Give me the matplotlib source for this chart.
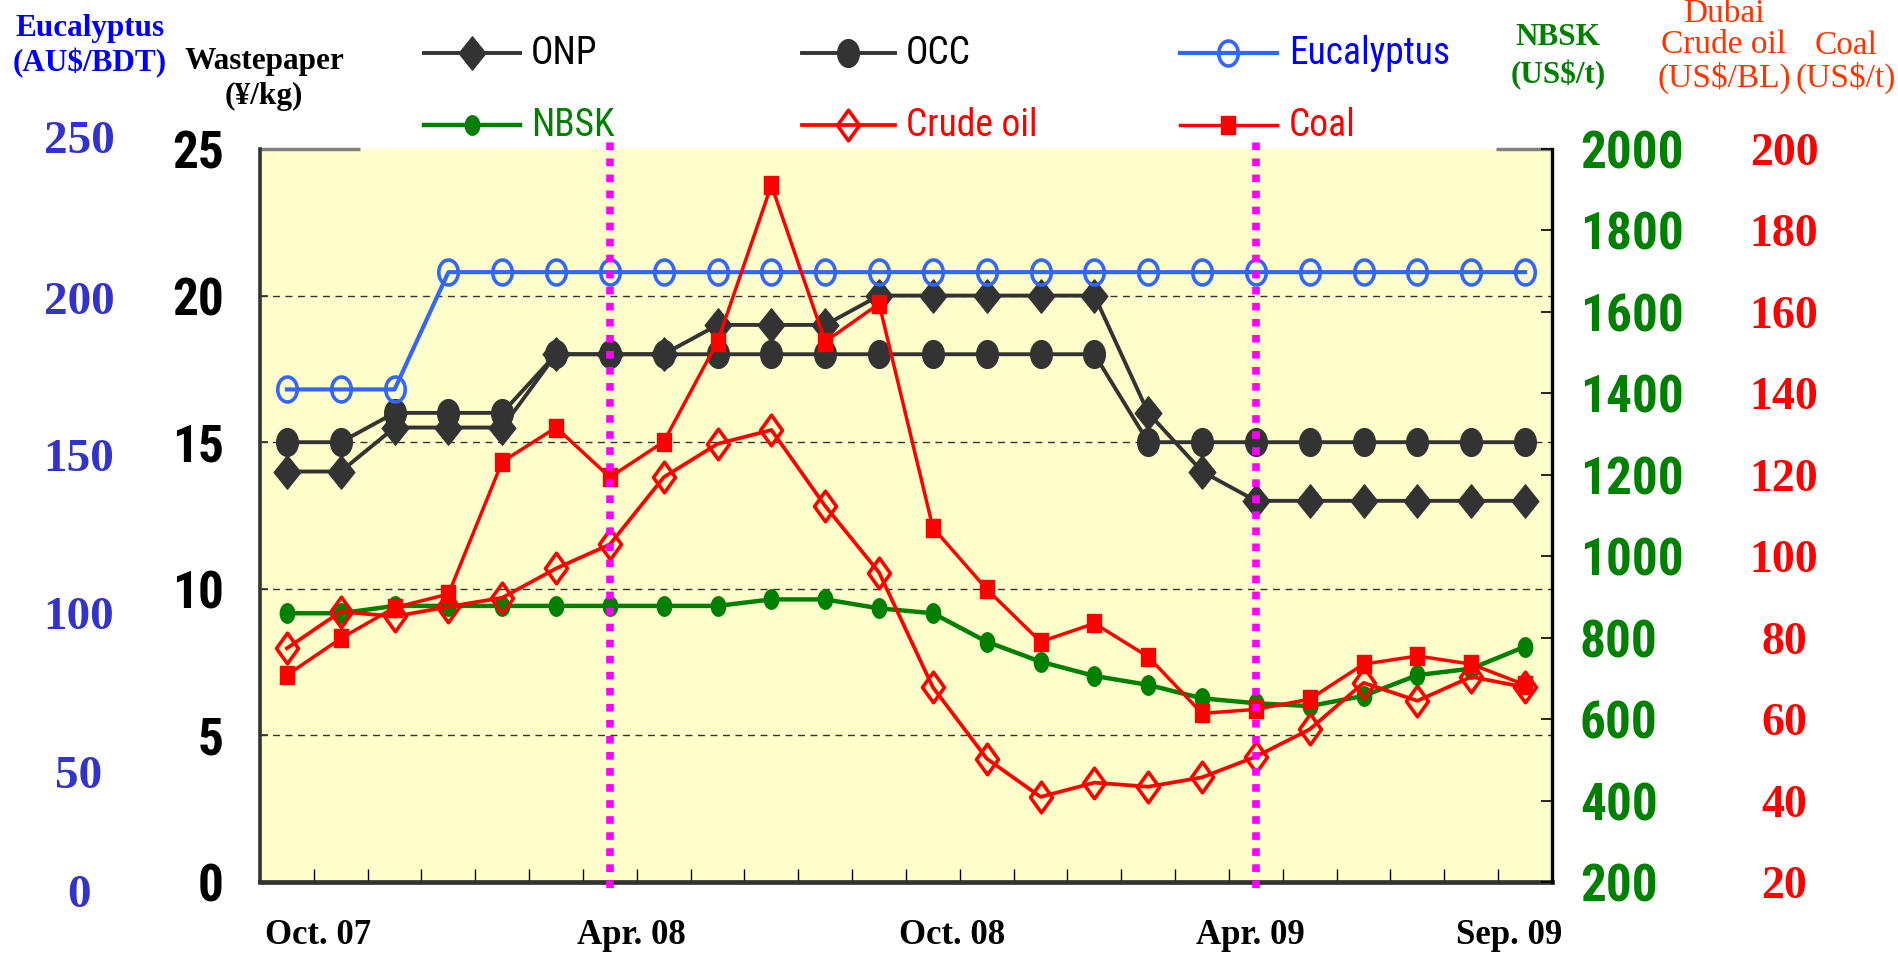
import numpy as np
import matplotlib
matplotlib.use("Agg")
import matplotlib.pyplot as plt
from matplotlib import font_manager as fm
from matplotlib.lines import Line2D
from matplotlib.path import Path
from matplotlib.transforms import blended_transform_factory

# ---------------- data ----------------
months = ["Oct. 07", "Nov. 07", "Dec. 07", "Jan. 08", "Feb. 08", "Mar. 08",
          "Apr. 08", "May 08", "Jun. 08", "Jul. 08", "Aug. 08", "Sep. 08",
          "Oct. 08", "Nov. 08", "Dec. 08", "Jan. 09", "Feb. 09", "Mar. 09",
          "Apr. 09", "May 09", "Jun. 09", "Jul. 09", "Aug. 09", "Sep. 09"]
x_labels = ["Oct. 07", "Apr. 08", "Oct. 08", "Apr. 09", "Sep. 09"]

onp = [14, 14, 15.5, 15.5, 15.5, 18, 18, 18, 19, 19, 19, 20,
       20, 20, 20, 20, 16, 14, 13, 13, 13, 13, 13, 13]
occ = [15, 15, 16, 16, 16, 18, 18, 18, 18, 18, 18, 18,
       18, 18, 18, 18, 15, 15, 15, 15, 15, 15, 15, 15]
eucalyptus = [168, 168, 168, 208, 208, 208, 208, 208, 208, 208, 208, 208,
              208, 208, 208, 208, 208, 208, 208, 208, 208, 208, 208, 208]
nbsk = [860, 860, 878, 878, 878, 878, 878, 878, 878, 894, 894, 872,
        860, 790, 741, 706, 684, 651, 639, 632, 657, 708, 724, 778]
crude_oil = [77.4, 86.4, 85.2, 87.6, 89.8, 97.0, 102.9, 119.4, 127.6, 131.0, 112.3, 96.0,
             67.8, 50.3, 40.9, 44.4, 43.4, 45.7, 50.8, 57.5, 68.9, 64.5, 70.4, 67.8]
coal = [70.8, 79.8, 87.4, 90.7, 123.2, 131.6, 119.4, 128.1, 152.7, 191.1, 152.7, 162.0,
        107.0, 91.9, 79.0, 83.5, 75.3, 61.4, 62.4, 64.9, 73.5, 75.5, 73.5, 68.4]
marked_months = ["Apr. 08", "Apr. 09"]

wp_ticks = [0, 5, 10, 15, 20, 25]
euc_ticks = [250, 200, 150, 100, 50, 0]
nbsk_ticks = [200, 400, 600, 800, 1000, 1200, 1400, 1600, 1800, 2000]
usd_ticks = [20, 40, 60, 80, 100, 120, 140, 160, 180, 200]

# ---------------- fonts ----------------
names = {f.name for f in fm.fontManager.ttflist}
def pick(*c):
    for n in c:
        if n in names:
            return n
    return "DejaVu Sans"
NARROW = pick("Liberation Sans Narrow", "Arial Narrow", "Roboto Condensed", "Liberation Sans")
IS_NARROW = NARROW != "Liberation Sans" and NARROW != "DejaVu Sans"
K = 1.0 if IS_NARROW else 0.82
SERIF = pick("Liberation Serif", "DejaVu Serif")

# ---------------- layout ----------------
W, H = 1899, 961
fig = plt.figure(figsize=(W / 100, H / 100), dpi=100)
fig.patch.set_facecolor("white")
def fx(p): return p / W
def fy(p): return 1 - p / H

L, R, T, B = 260, 1552, 149, 882
ax = fig.add_axes([fx(L), fy(B), (R - L) / W, (B - T) / H])
ax.set_facecolor("#FFFFCC")
x = np.arange(len(months))
ax.set_xlim(-0.5, len(months) - 0.5)
ax.set_ylim(0, 25)

# markers (slightly tall shapes)
t = np.linspace(0, 2 * np.pi, 41)
ELL = Path(np.column_stack([0.78 * np.cos(t), np.sin(t)]), closed=True)
ELL2 = Path(np.column_stack([0.74 * np.cos(t), np.sin(t)]), closed=True)
DIAM = Path([(0, 1), (0.8, 0), (0, -1), (-0.8, 0), (0, 1)], closed=True)
DIAM2 = Path([(0, 1), (0.72, 0), (0, -1), (-0.72, 0), (0, 1)], closed=True)
SQ = Path([(-0.8, -1), (0.8, -1), (0.8, 1), (-0.8, 1), (-0.8, -1)], closed=True)

DARK = "#333333"
BLUE = "#3366FF"
GREEN = "#008000"
RED = "#FF0000"

styles = {
    "ONP": dict(color=DARK, lw=2.8, marker=DIAM, ms=24, mfc=DARK, mec=DARK),
    "OCC": dict(color=DARK, lw=2.8, marker=ELL, ms=20, mfc=DARK, mec=DARK),
    "Eucalyptus": dict(color=BLUE, lw=3.0, marker=ELL, ms=18, mfc="none", mec=BLUE, mew=2.6),
    "NBSK": dict(color=GREEN, lw=3.2, marker=ELL2, ms=14, mfc=GREEN, mec=GREEN),
    "Crude oil": dict(color=RED, lw=2.7, marker=DIAM2, ms=22, mfc="none", mec=RED, mew=2.6),
    "Coal": dict(color=RED, lw=2.5, marker=SQ, ms=12.5, mfc=RED, mec=RED),
}

# gridlines
for v in wp_ticks[1:-1]:
    ax.axhline(v, color="#333333", lw=1.0, ls=(0, (5, 4)), zorder=1)

ax.plot(x, onp, zorder=3, **styles["ONP"])
ax.plot(x, occ, zorder=4, **styles["OCC"])

ax_e = ax.twinx()
ax_e.set_ylim(0, 250)
ax_e.plot(x, eucalyptus, zorder=3, **styles["Eucalyptus"])
ax_e.set_yticks([])
for s in ax_e.spines.values():
    s.set_visible(False)

ax_n = ax.twinx()
ax_n.set_ylim(200, 2000)
ax_n.plot(x, nbsk, **styles["NBSK"])
ax_n.set_yticks(nbsk_ticks)
ax_n.tick_params(axis="y", direction="in", length=8, width=1.2, color="black",
                 labelcolor=GREEN, pad=20, labelsize=37 * K)
for tl in ax_n.get_yticklabels():
    tl.set_fontfamily(NARROW); tl.set_fontweight("bold")
for k, s in ax_n.spines.items():
    s.set_visible(k == "right")
ax_n.spines["right"].set_color("black")
ax_n.spines["right"].set_linewidth(2.4)

ax_r = ax.twinx()
ax_r.set_ylim(20, 200)
ax_r.plot(x, crude_oil, **styles["Crude oil"])
ax_r.plot(x, coal, **styles["Coal"])
ax_r.set_yticks(usd_ticks)
ax_r.tick_params(axis="y", length=0, labelcolor=RED, pad=(1784 - R) / 1.389,
                 labelsize=33)
for tl in ax_r.get_yticklabels():
    tl.set_fontfamily(SERIF); tl.set_fontweight("bold"); tl.set_ha("center")
for s in ax_r.spines.values():
    s.set_visible(False)

# magenta markers for Apr. 08 / Apr. 09
tr = blended_transform_factory(ax_r.transData, ax_r.transAxes)
for m in marked_months:
    i = months.index(m)
    ax_r.plot([i, i], [-(888 - B) / (B - T), (B - 142) / (B - T)], transform=tr,
              color="#FF00FF", lw=5.5, ls=(0, (1.0, 1.1)), clip_on=False, zorder=10)

# main axis styling
ax.set_yticks(wp_ticks)
ax.tick_params(axis="y", direction="in", length=6, width=1.2, color="#333333",
               pad=26, labelsize=37 * K, labelcolor="black")
for tl in ax.get_yticklabels():
    tl.set_fontfamily(NARROW); tl.set_fontweight("bold")
ax.set_xticks(np.arange(0.5, len(months) - 1, 1.0), minor=True)
ax.tick_params(axis="x", which="minor", direction="in", length=9.5, width=1.0, color="black")
label_pos = [0.58, 6.39, 12.36, 17.9, 22.7]
ax.set_xticks(label_pos)
ax.set_xticklabels(x_labels, fontfamily=SERIF, fontweight="bold", fontsize=25)
ax.tick_params(axis="x", which="major", length=0, pad=27)
ax.spines["top"].set_visible(False)
ax.spines["right"].set_visible(False)
ax.spines["left"].set_color(DARK); ax.spines["left"].set_linewidth(2.6)
ax.spines["bottom"].set_color(DARK); ax.spines["bottom"].set_linewidth(3.4)
# gray corner stubs on the top edge
ax.plot([0, (360 - L) / (R - L)], [1, 1], transform=ax.transAxes, color="#808080",
        lw=2.5, clip_on=False, solid_capstyle="butt")
ax.plot([(1496 - L) / (R - L), 1], [1, 1], transform=ax.transAxes, color="#808080",
        lw=2.5, clip_on=False, solid_capstyle="butt")

# eucalyptus axis labels (left, blue)
euc_label_y = [142, 303, 460, 618, 777, 896]
for v, py in zip(euc_ticks, euc_label_y):
    fig.text(fx(79), fy(py), str(v), ha="center", va="center", color="#3333CC",
             fontfamily=SERIF, fontweight="bold", fontsize=34)

# headers
fig.text(fx(90), fy(46), "Eucalyptus\n(AU$/BDT)", ha="center", va="center", color="#0000FF",
         fontfamily=SERIF, fontweight="bold", fontsize=22.5, linespacing=1.2)
fig.text(fx(264), fy(79), "Wastepaper\n(¥/kg)", ha="center", va="center", color="black",
         fontfamily=SERIF, fontweight="bold", fontsize=22.5, linespacing=1.3)
fig.text(fx(1558), fy(57), "NBSK\n(US$/t)", ha="center", va="center", color=GREEN,
         fontfamily=SERIF, fontweight="bold", fontsize=22.5, linespacing=1.35)
fig.text(fx(1724), fy(46), "Dubai\nCrude oil\n(US$/BL)", ha="center", va="center", color="#FF3300",
         fontfamily=SERIF, fontsize=24, linespacing=1.05)
fig.text(fx(1846), fy(62), "Coal\n(US$/t)", ha="center", va="center", color="#FF3300",
         fontfamily=SERIF, fontsize=24, linespacing=1.05)

# legend (2 rows x 3 columns)
leg = [("ONP", 424, 520, 531, 53, "black"),
       ("OCC", 802, 895, 906, 53, "black"),
       ("Eucalyptus", 1180, 1277, 1289, 53, "#0000FF"),
       ("NBSK", 424, 520, 531, 125, GREEN),
       ("Crude oil", 802, 895, 906, 125, RED),
       ("Coal", 1180, 1277, 1289, 125, RED)]
for name, x0, x1, tx, py, tc in leg:
    st = dict(styles[name])
    ln = Line2D([fx(x0), fx((x0 + x1) / 2), fx(x1)], [fy(py)] * 3,
                transform=fig.transFigure, markevery=[1], **st)
    fig.add_artist(ln)
    fig.text(fx(tx), fy(py), name, ha="left", va="center", color=tc,
             fontfamily=NARROW, fontsize=27 * K)

fig.savefig("out.png", dpi=100, facecolor="white")
